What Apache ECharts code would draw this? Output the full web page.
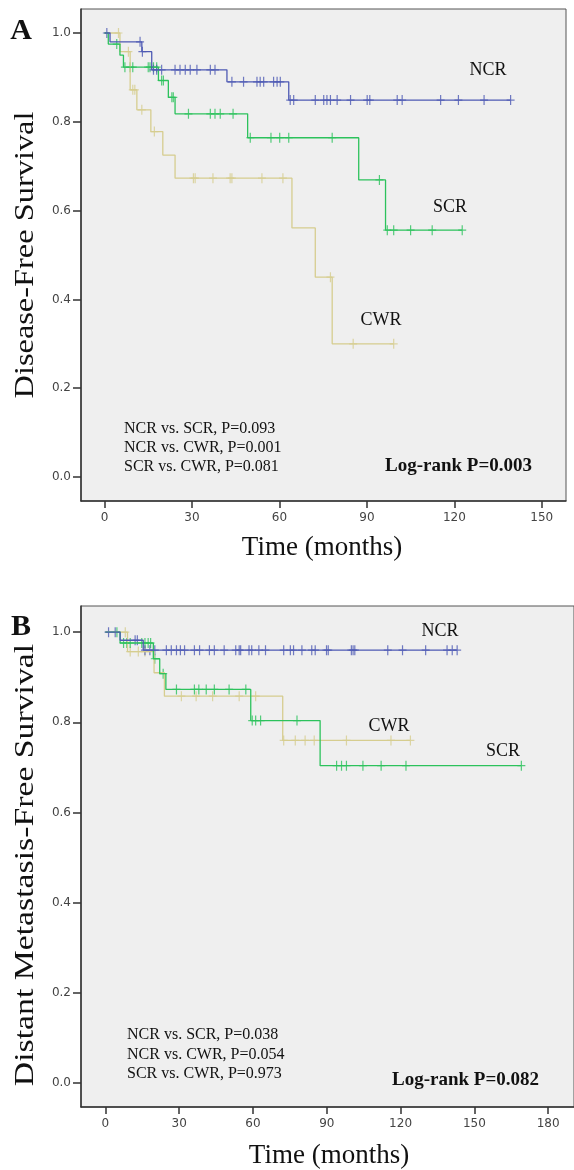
<!DOCTYPE html>
<html><head><meta charset="utf-8">
<script src="https://cdn.jsdelivr.net/npm/echarts@6/dist/echarts.min.js"></script>
<style>html,body{margin:0;padding:0;background:#fff}#c{width:574px;height:1170px}</style>
</head><body><div id="c"></div>
<script>
// ---- tick labels ----
const xTicksA = [0, 30, 60, 90, 120, 150];
const xTicksB = [0, 30, 60, 90, 120, 150, 180];
const yTicks = [0, 0.2, 0.4, 0.6, 0.8, 1.0];

// ---- Panel A: Disease-Free Survival (step points: [months, survival after drop]) ----
const dfsNCR = [[0,1],[1.9,0.980],[12.8,0.958],[16.2,0.917],[42,0.890],[63.2,0.849]];
const dfsNCRend = 139.3;
const dfsNCRcens = [0.8,12.2,13,16.8,17.9,19.6,24.2,25.9,27.7,29.4,31.7,36.3,37.9,43.7,47.7,52.3,53.4,54.6,58,59.2,60.3,63.7,64.9,72.3,75.2,76.3,77.5,79.8,84.4,90.1,91,100.4,102.1,115.3,121.4,130.2,139.3];

const dfsSCR = [[0,1],[1.3,0.975],[5.3,0.950],[6.5,0.923],[18.5,0.893],[21.9,0.855],[24.2,0.818],[49.1,0.764],[87.2,0.669],[96.4,0.556]];
const dfsSCRend = 122.7;
const dfsSCRcens = [4.2,7.0,8.8,9.7,15,15.6,16.8,17.9,19.6,20.2,23.1,23.6,28.8,36.3,37.9,39.7,44.1,50,57.1,60.1,63.2,78.1,94.3,97,99.2,105,112.4,122.7];

const dfsCWR = [[0,1],[5.3,0.958],[8.8,0.872],[11.1,0.827],[15.9,0.778],[20,0.725],[24.2,0.673],[64.3,0.561],[72.3,0.450],[78.1,0.300]];
const dfsCWRend = 99.2;
const dfsCWRcens = [4.8,8.2,9.7,10.4,12.8,17.1,30.5,31.1,37.2,43.1,43.7,54,61.2,77.5,85.3,99.2];

// ---- Panel B: Distant Metastasis-Free Survival ----
const dmfsNCR = [[0,1],[6,0.982],[15.4,0.960]];
const dmfsNCRend = 143;
const dmfsNCRcens = [1.3,4,12.1,13,16.1,18.1,20.1,24.8,26.8,28.9,30.5,32.2,36.2,38.3,42.3,44.3,48.3,53,54.4,55,58.4,59.5,62.4,65.1,72.5,75.2,76.5,79.9,83.9,85.3,89.9,90.6,100,100.7,101.4,114.8,120.8,130.2,138.9,141,143];

const dmfsSCR = [[0,1],[6,0.976],[19.5,0.941],[22.1,0.908],[24.6,0.873],[59.1,0.804],[87.3,0.704]];
const dmfsSCRend = 169.1;
const dmfsSCRcens = [4.7,7.4,8.7,10.1,14.8,16.1,17.4,18.4,20.1,23.5,28.9,36.2,38,41,44.3,50.3,57.1,59.7,61.1,63.1,77.9,94,96,98,104.7,112.1,122.2,169.1];

const dmfsCWR = [[0,1],[9,0.957],[19.8,0.910],[24,0.858],[72.1,0.760]];
const dmfsCWRend = 124;
const dmfsCWRcens = [8.1,10.1,13.4,16.1,30.9,36.9,43.6,54.4,61.1,72.5,77.2,81.2,84.9,98,116.1,124];

const colNCR = '#4e5ab4', colSCR = '#2cc25c', colCWR = '#d6cd8f';

function survAt(steps, t) {
  let s = steps[0][1];
  for (const p of steps) { if (p[0] <= t) s = p[1]; }
  return s;
}
function lineData(steps, end) { return steps.concat([[end, steps[steps.length-1][1]]]); }
function censData(steps, cens) { return cens.map(t => [t, survAt(steps, t)]); }

const plusPath = 'path://M34,0H46V44H80V56H46V100H34V56H0V44H34Z';
function curve(steps, end, cens, color, gi) {
  return [
    { type: 'line', step: 'end', xAxisIndex: gi, yAxisIndex: gi, data: lineData(steps, end),
      showSymbol: false, lineStyle: { color: color, width: 1.3 }, silent: true, animation: false },
    { type: 'scatter', xAxisIndex: gi, yAxisIndex: gi, data: censData(steps, cens),
      symbol: plusPath, symbolSize: [8, 10], itemStyle: { color: color }, silent: true, animation: false }
  ];
}

const serif = '"Liberation Serif", "Times New Roman", serif';
const tickFont = { fontFamily: 'DejaVu Sans', fontSize: 12, color: '#444' };

function xAxis(gi, min, max, ticks) {
  return { type: 'value', gridIndex: gi, min: min, max: max, position: 'bottom',
    axisLine: { show: true, onZero: false, lineStyle: { color: '#333', width: 1.5 } },
    axisTick: { show: true, customValues: ticks, length: 7, lineStyle: { color: '#333', width: 1.5 } },
    axisLabel: Object.assign({ customValues: ticks, margin: 11 }, tickFont),
    splitLine: { show: false } };
}
function yAxis(gi, min, max) {
  return { type: 'value', gridIndex: gi, min: min, max: max, position: 'left',
    axisLine: { show: true, onZero: false, lineStyle: { color: '#333', width: 1.5 } },
    axisTick: { show: true, customValues: yTicks, length: 8, lineStyle: { color: '#333', width: 1.5 } },
    axisLabel: Object.assign({ customValues: yTicks, margin: 10, formatter: v => v.toFixed(1) }, tickFont),
    splitLine: { show: false } };
}

function txt(text, x, y, size, opts) {
  opts = opts || {};
  return { type: 'text', x: x, y: y, rotation: opts.rot || 0, scaleX: opts.sx || 1, scaleY: opts.sy || 1, silent: true,
    style: { text: text, fill: '#111', font: (opts.bold ? 'bold ' : '') + size + 'px ' + serif,
      align: opts.align || 'center', textAlign: opts.align || 'center', verticalAlign: 'middle', textVerticalAlign: 'middle' } };
}

const chart = echarts.init(document.getElementById('c'), null, { renderer: 'canvas' });
chart.setOption({
  animation: false,
  backgroundColor: '#ffffff',
  grid: [
    { left: 81, top: 9, width: 485, height: 492, show: true, backgroundColor: '#efefef', borderColor: '#555', borderWidth: 1 },
    { left: 81, top: 606, width: 497, height: 501, show: true, backgroundColor: '#efefef', borderColor: '#555', borderWidth: 1 }
  ],
  xAxis: [ xAxis(0, -8.06, 158.3, xTicksA), xAxis(1, -9.9, 190.5, xTicksB) ],
  yAxis: [ yAxis(0, -0.054, 1.054), yAxis(1, -0.053, 1.058) ],
  series: [].concat(
    curve(dfsCWR, dfsCWRend, dfsCWRcens, colCWR, 0),
    curve(dfsSCR, dfsSCRend, dfsSCRcens, colSCR, 0),
    curve(dfsNCR, dfsNCRend, dfsNCRcens, colNCR, 0),
    curve(dmfsCWR, dmfsCWRend, dmfsCWRcens, colCWR, 1),
    curve(dmfsSCR, dmfsSCRend, dmfsSCRcens, colSCR, 1),
    curve(dmfsNCR, dmfsNCRend, dmfsNCRcens, colNCR, 1)
  ),
  graphic: [
    txt('A', 21, 31, 30, { bold: true }),
    txt('Disease-Free Survival', 26, 255, 27, { rot: Math.PI / 2, sx: 1.2 }),
    txt('NCR', 488, 70, 18),
    txt('SCR', 450, 207, 18),
    txt('CWR', 381, 320, 18),
    txt('NCR vs. SCR, P=0.093', 124, 429, 16, { align: 'left' }),
    txt('NCR vs. CWR, P=0.001', 124, 448, 16, { align: 'left' }),
    txt('SCR vs. CWR, P=0.081', 124, 467, 16, { align: 'left' }),
    txt('Log-rank P=0.003', 385, 466, 19, { bold: true, align: 'left' }),
    txt('Time (months)', 322, 548, 27),

    txt('B', 21, 627, 30, { bold: true }),
    txt('Distant Metastasis-Free Survival', 26, 865, 27, { rot: Math.PI / 2, sx: 1.25 }),
    txt('NCR', 440, 631, 18),
    txt('CWR', 389, 726, 18),
    txt('SCR', 503, 751, 18),
    txt('NCR vs. SCR, P=0.038', 127, 1035, 16, { align: 'left' }),
    txt('NCR vs. CWR, P=0.054', 127, 1055, 16, { align: 'left' }),
    txt('SCR vs. CWR, P=0.973', 127, 1074, 16, { align: 'left' }),
    txt('Log-rank P=0.082', 392, 1080, 19, { bold: true, align: 'left' }),
    txt('Time (months)', 329, 1156, 27)
  ]
});
</script></body></html>
